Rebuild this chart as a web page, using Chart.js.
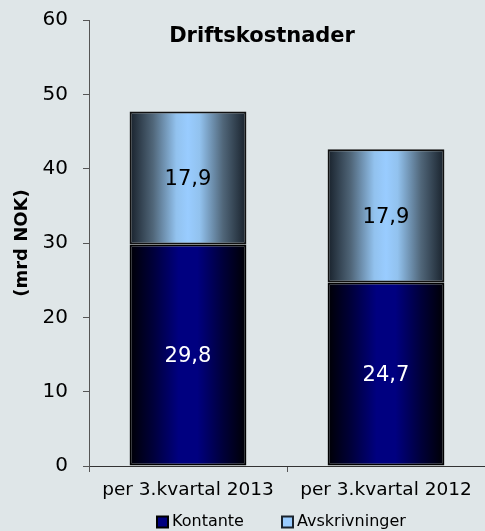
<!DOCTYPE html>
<html>
<head>
<meta charset="utf-8">
<script src="https://cdn.jsdelivr.net/npm/chart.js@4/dist/chart.umd.min.js"></script>
<style>
  html, body { margin: 0; padding: 0; background: #dfe6e8; }
  #wrap { width: 485px; height: 531px; position: relative; }
</style>
</head>
<body>
<div id="wrap"><canvas id="c" width="485" height="531"></canvas></div>
<script>
const categories = ['per 3.kvartal 2013', 'per 3.kvartal 2012'];
const kontante = [29.8, 24.7];
const avskrivninger = [17.9, 17.9];
const seriesNames = ['Kontante', 'Avskrivninger'];
const chartTitle = 'Driftskostnader';
const yAxisTitle = '(mrd NOK)';
const yMin = 0, yMax = 60, yStep = 10;

const FONT = "'DejaVu Sans', Verdana, sans-serif";
const BAR_PCT = 0.59;

const gradStops = [
  [[0, '#000004'], [0.2, '#00003a'], [0.42, '#000080'], [0.58, '#000080'], [0.8, '#00003a'], [1, '#000004']],
  [[0, '#18212b'], [0.2, '#506679'], [0.4, '#92c2ee'], [0.5, '#99ccff'], [0.6, '#92c2ee'], [0.8, '#506679'], [1, '#18212b']]
];
const solidColors = ['#000080', '#99ccff'];
const labelColors = ['#ffffff', '#000000'];

function barGradient(ctx) {
  const chart = ctx.chart;
  const xs = chart.scales.x;
  if (!xs || ctx.type !== 'data' || !chart.chartArea) return solidColors[ctx.datasetIndex];
  const cx = xs.getPixelForValue(ctx.dataIndex);
  const half = (xs.width / categories.length) * BAR_PCT / 2;
  const g = chart.ctx.createLinearGradient(cx - half, 0, cx + half, 0);
  gradStops[ctx.datasetIndex].forEach(s => g.addColorStop(s[0], s[1]));
  return g;
}

const overlayPlugin = {
  id: 'overlay',
  afterDatasetsDraw(chart) {
    const ctx = chart.ctx;
    ctx.save();
    ctx.font = '21px ' + FONT;
    ctx.textAlign = 'center';
    ctx.textBaseline = 'middle';
    chart.data.datasets.forEach((ds, i) => {
      const meta = chart.getDatasetMeta(i);
      meta.data.forEach((el, j) => {
        const v = ds.data[j];
        ctx.fillStyle = labelColors[i];
        const yc = (el.y + el.base) / 2;
        ctx.fillText(v.toFixed(1).replace('.', ','), el.x, yc + 2);
      });
    });
    const ca = chart.chartArea;
    ctx.font = 'bold 21px ' + FONT;
    ctx.fillStyle = '#000000';
    ctx.fillText(chartTitle, ca.left + (ca.right - ca.left) * 0.437, ca.top + 17);
    ctx.restore();
  },
  afterDraw(chart) {
    const ctx = chart.ctx;
    ctx.save();
    ctx.font = '16px ' + FONT;
    ctx.textBaseline = 'middle';
    ctx.textAlign = 'left';
    const yc = 522;
    const boxes = [157, 282];
    seriesNames.forEach((name, i) => {
      const bx = boxes[i];
      ctx.fillStyle = solidColors[i];
      ctx.fillRect(bx, yc - 5.5, 11, 11);
      ctx.lineWidth = 2;
      ctx.strokeStyle = i === 0 ? '#000000' : '#1a232d';
      ctx.strokeRect(bx, yc - 5.5, 11, 11);
      ctx.fillStyle = '#000000';
      ctx.fillText(name, bx + 15, yc);
    });
    ctx.restore();
  }
};

new Chart(document.getElementById('c'), {
  type: 'bar',
  data: {
    labels: categories,
    datasets: [
      { label: seriesNames[0], data: kontante, backgroundColor: barGradient, borderColor: '#000000', borderWidth: 2, borderSkipped: false, barPercentage: BAR_PCT, categoryPercentage: 1 },
      { label: seriesNames[1], data: avskrivninger, backgroundColor: barGradient, borderColor: '#111111', borderWidth: 2, borderSkipped: false, barPercentage: BAR_PCT, categoryPercentage: 1 }
    ]
  },
  options: {
    responsive: false,
    animation: false,
    layout: { padding: { top: 20, right: 0, bottom: 0, left: 0 } },
    scales: {
      x: {
        stacked: true,
        grid: { offset: true, drawOnChartArea: false, tickLength: 6, color: '#555555' },
        border: { color: '#333333', width: 1 },
        ticks: { color: '#000', font: { family: FONT, size: 18.5 }, padding: 7, maxRotation: 0 },
        afterFit(s) { s.height = 65; s.paddingLeft = 0; s.paddingRight = 0; }
      },
      y: {
        stacked: true,
        min: yMin, max: yMax,
        grid: { drawOnChartArea: false, tickLength: 6, color: '#555555' },
        border: { color: '#555555', width: 1 },
        ticks: { stepSize: yStep, color: '#000', font: { family: FONT, size: 20 }, padding: 15 },
        title: { display: true, text: yAxisTitle, color: '#000', font: { family: FONT, size: 18, weight: 'bold' }, padding: { top: 12, bottom: 0 } },
        afterFit(s) { s.width = 89; s.paddingTop = 0; s.paddingBottom = 0; }
      }
    },
    plugins: {
      legend: { display: false },
      tooltip: { enabled: false }
    }
  },
  plugins: [overlayPlugin]
});
</script>
</body>
</html>
